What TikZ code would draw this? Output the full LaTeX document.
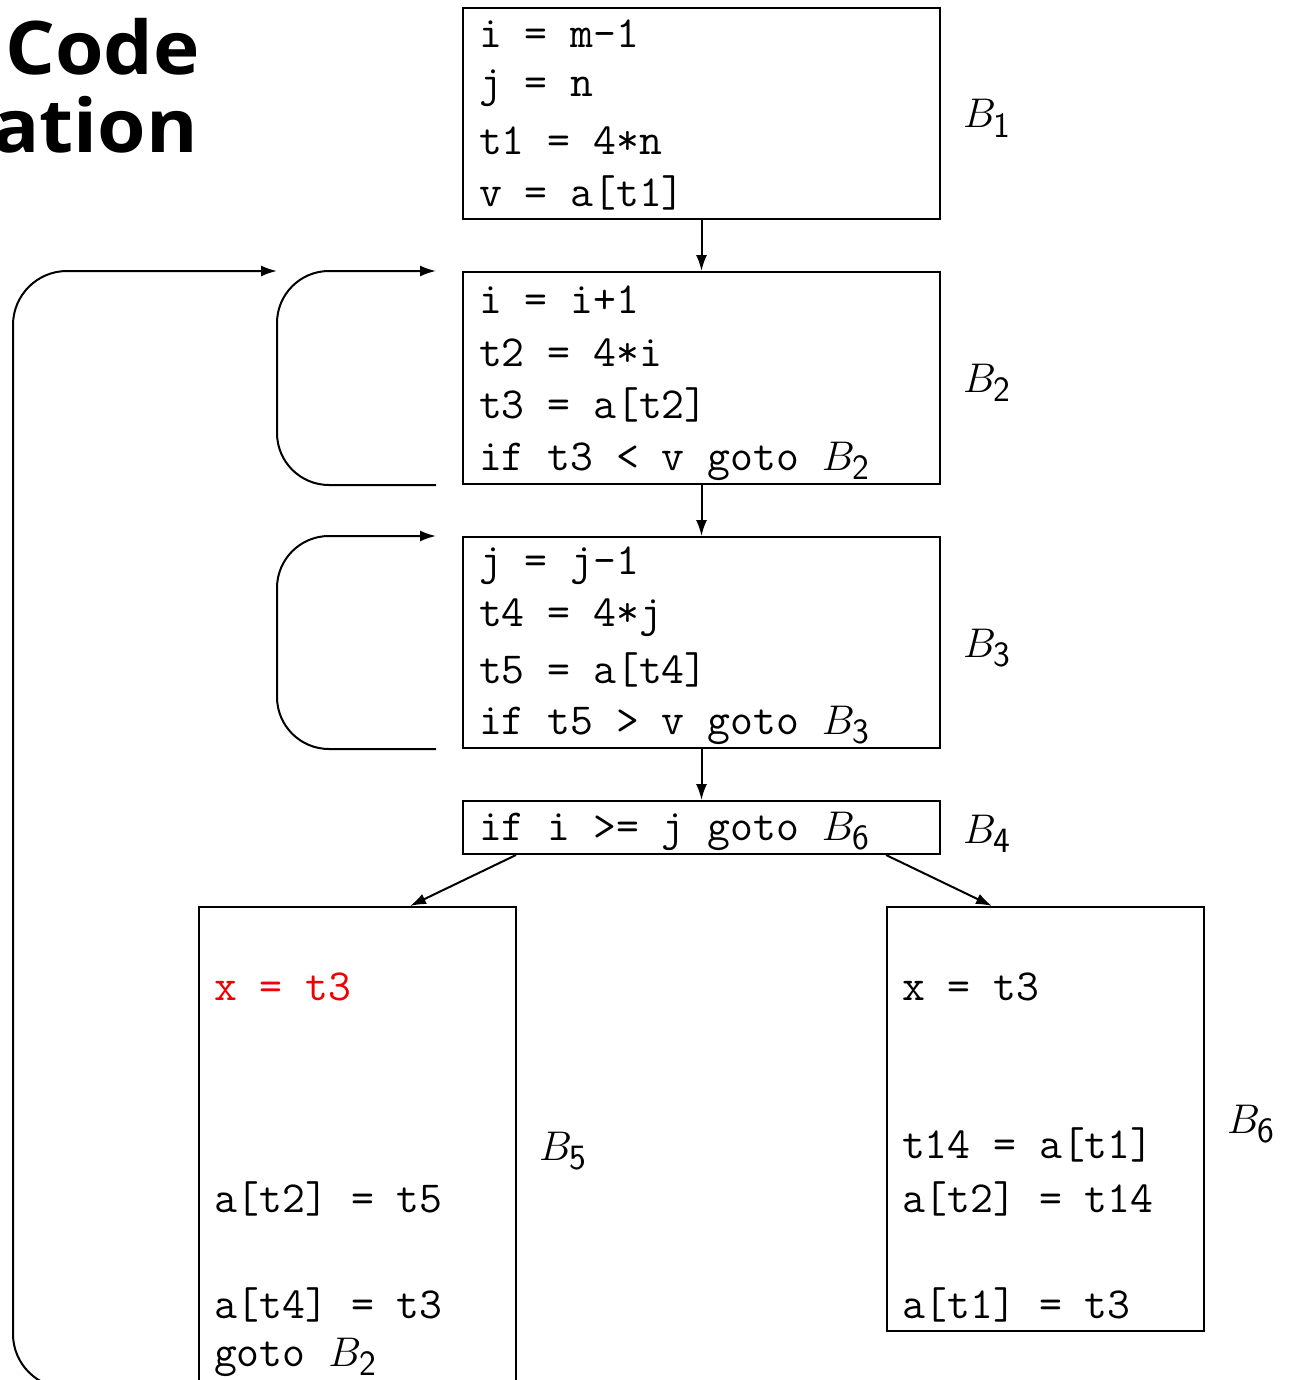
\documentclass[tikz,border=0pt]{standalone}
\usepackage{fontspec}
\newfontfamily\titlefont[FakeStretch=1.06]{Open Sans}
\usetikzlibrary{arrows.meta,calc}
\DeclareMathSizes{22.2}{22.2}{17.8}{13}
\newcommand\cdfont{\fontsize{22.2}{26}\selectfont\ttfamily}
\newcommand\lbfont{\fontsize{22.2}{26}\selectfont}
\newcommand\BB[1]{$B_{\mathsf{#1}}$}
\definecolor{hot}{RGB}{240,0,0}
\begin{document}
\begin{tikzpicture}[x=0.5pt,y=-0.5pt,line width=1pt,
  blk/.style={draw,inner sep=0pt,minimum width=238.5pt},
  cd/.style={anchor=base west,inner sep=0pt,font=\cdfont},
  lb/.style={anchor=base west,inner sep=0pt,font=\lbfont},
  ttl/.style={anchor=base east,inner sep=0pt,font=\titlefont\bfseries\fontsize{37}{44}\selectfont},
  arr/.style={-{Latex[length=8pt,width=5.5pt]}},
  loop/.style={arr,rounded corners=26pt}]
\useasboundingbox (0,0) rectangle (1289,1380);
\clip (0,0) rectangle (1289,1380);

% title fragments
\node[ttl] (t1) at (201,75) {Code};
\node[ttl] (t2) at (199,153) {ation};

% blocks
\node[blk,minimum height=105.5pt] (b1) at (701.5,113.5) {};
\node[blk,minimum height=106pt] (b2) at (701.5,378) {};
\node[blk,minimum height=105.5pt] (b3) at (701.5,642.5) {};
\node[blk,minimum height=26.5pt] (b4) at (701.5,827.5) {};
\node[blk,minimum width=158.5pt,minimum height=261.5pt] (b5) at (357.5,1168.5) {};
\node[blk,minimum width=158.5pt,minimum height=212pt] (b6) at (1045.5,1119) {};

% B1 text
\node[cd] (l11) at (478,48) {i = m-1};
\node[cd] (l12) at (478,97) {j = n};
\node[cd] (l13) at (478,155) {t1 = 4*n};
\node[cd] (l14) at (478,206) {v = a[t1]};
% B2 text
\node[cd] (l21) at (478,313) {i = i+1};
\node[cd] (l22) at (478,366) {t2 = 4*i};
\node[cd] (l23) at (478,418) {t3 = a[t2]};
\node[cd] (l24) at (478,470) {if t3 < v goto \BB{2}};
% B3 text
\node[cd] (l31) at (478,574) {j = j-1};
\node[cd] (l32) at (478,626) {t4 = 4*j};
\node[cd] (l33) at (478,683) {t5 = a[t4]};
\node[cd] (l34) at (478,734) {if t5 > v goto \BB{3}};
% B4 text
\node[cd] (l41) at (478,840) {if i >= j goto \BB{6}};
% B5 text
\node[cd,text=hot] (l51) at (213,1000) {x = t3};
\node[cd] (l52) at (213,1212) {a[t2] = t5};
\node[cd] (l53) at (213,1318) {a[t4] = t3};
\node[cd] (l54) at (213,1366) {goto \BB{2}};
% B6 text
\node[cd] (l61) at (901,1000) {x = t3};
\node[cd] (l62) at (901,1158) {t14 = a[t1]};
\node[cd] (l63) at (901,1212) {a[t2] = t14};
\node[cd] (l64) at (901,1318) {a[t1] = t3};

% block labels
\node[lb] (n1) at (962,128) {\BB{1}};
\node[lb] (n2) at (962,392) {\BB{2}};
\node[lb] (n3) at (962,657) {\BB{3}};
\node[lb] (n4) at (962,843) {\BB{4}};
\node[lb] (n5) at (538,1160) {\BB{5}};
\node[lb] (n6) at (1226,1133) {\BB{6}};

% straight edges
\draw[arr] (b1.south) -- (b2.north);
\draw[arr] (b2.south) -- (b3.north);
\draw[arr] (b3.south) -- (b4.north);
\draw[arr] ($(b4.south west)+(54,0)$) -- ($(b5.north)+(52.5,0)$);
\draw[arr] ($(b4.south east)+(-55,0)$) -- ($(b6.north)+(-53.5,0)$);

% loops
\draw[loop] ($(b2.south west)+(-26,0)$) -- ($(b2.south west)+(-185,0)$)
  -- ($(b2.north west)+(-185,0)$) -- ($(b2.north west)+(-26,0)$);
\draw[loop] ($(b3.south west)+(-26,0)$) -- ($(b3.south west)+(-185,0)$)
  -- ($(b3.north west)+(-185,0)$) -- ($(b3.north west)+(-26,0)$);
\draw[arr,rounded corners=27pt] ($(b5.north west)+(0,482)$) -- ($(b5.north west)+(-185,482)$)
  |- ($(b2.north west)+(-185,0)$);
\end{tikzpicture}
\end{document}
